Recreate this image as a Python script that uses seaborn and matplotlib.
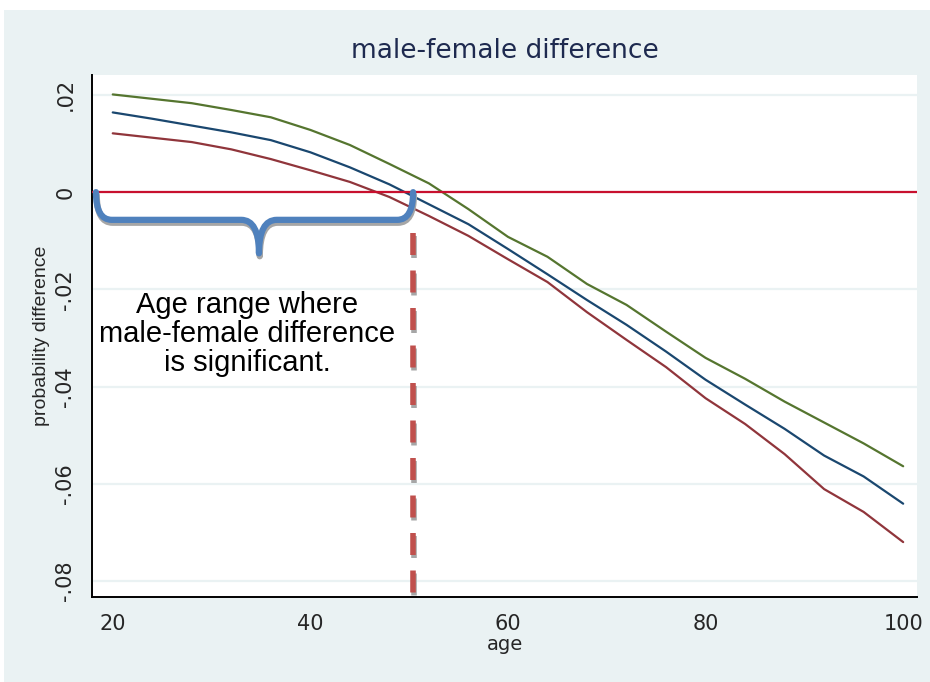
import matplotlib
matplotlib.use("Agg")
import matplotlib.pyplot as plt
from matplotlib.path import Path
from matplotlib.patches import PathPatch, Rectangle
import seaborn as sns
import pandas as pd

# ages and the three curves (upper CI, estimate, lower CI)
age = [20, 24, 28, 32, 36, 40, 44, 48, 52, 56, 60, 64, 68, 72, 76, 80, 84, 88, 92, 96, 100]
upper = [0.0201, 0.0192, 0.0183, 0.0169, 0.0154, 0.0128, 0.0097, 0.0058, 0.0018, -0.0035, -0.0092,
         -0.0133, -0.0189, -0.0232, -0.0287, -0.0341, -0.0384, -0.0431, -0.0474, -0.0517, -0.0564]
estimate = [0.0164, 0.0151, 0.0137, 0.0123, 0.0107, 0.0082, 0.0051, 0.0016, -0.0025, -0.0066, -0.0117,
            -0.0169, -0.0222, -0.0273, -0.0328, -0.0386, -0.0437, -0.0487, -0.0542, -0.0585, -0.0641]
lower = [0.0121, 0.0112, 0.0103, 0.0088, 0.0068, 0.0045, 0.0021, -0.0010, -0.0049, -0.0090, -0.0138,
         -0.0185, -0.0247, -0.0304, -0.0360, -0.0424, -0.0477, -0.0539, -0.0611, -0.0658, -0.0720]

yticks = [0.02, 0, -0.02, -0.04, -0.06, -0.08]
ytick_labels = ['.02', '0', '-.02', '-.04', '-.06', '-.08']
xticks = [20, 40, 60, 80, 100]

sig_end = 50.4  # age where the difference stops being significant
note = "Age range where\nmale-female difference\nis significant."

sns.set_style("white")
plt.rcParams['font.family'] = ['DejaVu Sans']

bg = '#EAF2F3'
fig = plt.figure(figsize=(9.3, 6.82), dpi=100)
fig.patch.set_facecolor('white')
fig.patches.append(Rectangle((4 / 930, 0), 1, 1 - 10 / 682, transform=fig.transFigure,
                             facecolor=bg, edgecolor='none', zorder=-10))
ax = fig.add_axes([92 / 930, 1 - 597 / 682, (917 - 92) / 930, (597 - 75) / 682])
ax.set_facecolor('white')

df = pd.DataFrame({'age': age, 'upper': upper, 'estimate': estimate, 'lower': lower})
sns.lineplot(data=df, x='age', y='upper', color='#55752F', lw=1.6, ax=ax)
sns.lineplot(data=df, x='age', y='estimate', color='#1A476F', lw=1.6, ax=ax)
sns.lineplot(data=df, x='age', y='lower', color='#90353B', lw=1.6, ax=ax)
ax.axhline(0, color='#C8102E', lw=1.6, zorder=3)

ax.set_xlim(17.9, 101.4)
ax.set_ylim(-0.0833, 0.0241)
ax.set_yticks(yticks)
ax.set_yticklabels(ytick_labels, rotation=90, va='center', fontsize=15)
ax.set_xticks(xticks)
ax.set_xticklabels([str(t) for t in xticks], fontsize=15)
for t in yticks:
    ax.axhline(t, color=bg, lw=1.6, zorder=0)
ax.tick_params(axis='both', direction='out', length=7, width=1.2, color='black', pad=5)
for s in ['top', 'right']:
    ax.spines[s].set_visible(False)
for s in ['left', 'bottom']:
    ax.spines[s].set_color('black')
    ax.spines[s].set_linewidth(1.4)

ax.set_xlabel('age', fontsize=14, labelpad=1)
ax.set_ylabel('probability difference', fontsize=14, family=['Liberation Sans', 'DejaVu Sans'], labelpad=4)
ax.set_title('male-female difference', fontsize=19, color='#1E2A4F', pad=12)

# curly brace over the significant age range, with a grey shadow
x0, x1, xm = 18.3, sig_end, 34.8
ylev, ytip = -0.0057, -0.0126
verts = [(x0, 0), (x0, ylev), (x0 + 1.6, ylev),
         (xm - 1.8, ylev), (xm, ylev), (xm, ytip),
         (xm, ylev), (xm + 1.8, ylev),
         (x1 - 1.6, ylev), (x1, ylev), (x1, 0)]
codes = [Path.MOVETO, Path.CURVE3, Path.CURVE3,
         Path.LINETO, Path.CURVE3, Path.CURVE3,
         Path.CURVE3, Path.CURVE3,
         Path.LINETO, Path.CURVE3, Path.CURVE3]
dx, dy = 0.08, -0.0006
shadow = [(vx + dx, vy + dy) for vx, vy in verts]
ax.add_patch(PathPatch(Path(shadow, codes), fill=False, edgecolor='#A6A6A6', lw=4.5,
                       capstyle='round', joinstyle='round', zorder=4))
ax.add_patch(PathPatch(Path(verts, codes), fill=False, edgecolor='#4F81BD', lw=4.5,
                       capstyle='round', joinstyle='round', zorder=5))

# dashed cut-off line
y_top, y_bot = -0.0084, -0.0825
ax.plot([sig_end + dx, sig_end + dx], [y_top + dy, y_bot + dy], color='#A6A6A6', lw=4,
        dashes=(3.96, 2.79), zorder=4)
ax.plot([sig_end, sig_end], [y_top, y_bot], color='#C0504D', lw=4,
        dashes=(3.96, 2.79), zorder=5)

ax.text(33.6, -0.0292, note, ha='center', va='center', fontsize=21, linespacing=1.05,
        family=['Liberation Sans', 'DejaVu Sans'], color='black', zorder=6)

fig.savefig('out.png', dpi=100, facecolor=fig.get_facecolor())
